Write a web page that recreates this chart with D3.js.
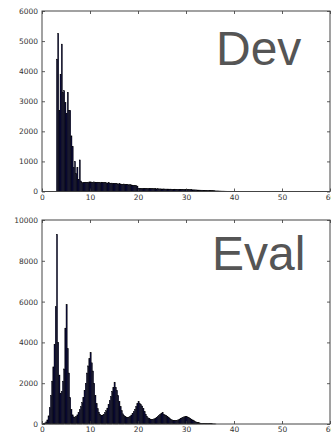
<!DOCTYPE html>
<html>
<head>
<meta charset="utf-8">
<script src="https://cdn.jsdelivr.net/npm/d3@7"></script>
<style>
  body { margin: 0; background: #fff; }
  svg { display: block; }
  .tick text { font-family: "DejaVu Sans", sans-serif; font-size: 7.5px; fill: #333; }
  .tick line { stroke: #333; stroke-width: 0.8px; }
  .domain { display: none; }
</style>
</head>
<body>
<div id="container"></div>
<script>
// histogram bins, width 0.25
const binWidth = 0.25;

const devStart = 3.0;
const devCounts = [
  4400, 5250, 2700, 3900, 4900, 3300, 3350, 2950, 2600, 3300, 2700, 2700,
  1850, 1500, 800, 1000, 600, 800, 400, 1050, 350,
  300, 290, 300, 310, 300, 310, 320,
  320, 310, 300, 320, 310, 300, 310, 300,
  300, 310, 300, 290, 300, 290, 280, 290,
  280, 270, 280, 270, 260, 270, 260, 250,
  260, 250, 240, 240, 250, 230, 240, 230,
  220, 230, 220, 210, 200, 210, 190, 180,
  110, 100, 105, 100, 95, 100, 100, 95,
  95, 100, 90, 95, 90, 95, 90, 88,
  90, 85, 88, 85, 84, 86, 82, 80,
  82, 80, 78, 80, 76, 75, 78, 74,
  72, 74, 70, 72, 68, 70, 66, 65,
  64, 62, 60, 62, 58, 56, 55, 54,
  52, 50, 48, 46, 45, 44, 42, 40,
  38, 36, 35, 33, 30, 28, 26, 24,
  22, 20, 19, 18, 16, 15, 14, 13,
  12, 11, 10, 10, 9, 8, 8, 7,
  6, 6, 5, 5, 4, 4, 3, 3,
  3, 2, 2, 2, 2, 1, 1, 1,
  1, 1, 0, 1, 1, 0, 1, 0
];

const evalStart = 0.25;
const evalCounts = [
  20, 50, 100, 200, 400, 800, 1400, 2100, 2800, 3900, 5750, 9300,
  4000, 2400, 1500, 1600, 2100, 2700, 4700, 5850, 3700, 2500, 1300, 700,
  450, 350, 330, 380, 450, 550, 700, 850, 1050, 1300, 1650, 2000,
  2500, 2850, 3200, 3500, 3000, 2600, 2000, 1400, 1000, 750, 580, 480,
  430, 440, 480, 560, 650, 780, 950, 1150, 1350, 1600, 1800, 2050,
  1800, 1650, 1400, 1100, 850, 650, 500, 420, 360, 330, 320, 340,
  380, 440, 520, 600, 720, 850, 1000, 1100, 1000, 950, 880, 750,
  600, 480, 380, 300, 260, 230, 220, 230, 250, 280, 320, 370,
  420, 470, 520, 560, 470, 450, 420, 380, 320, 270, 230, 200,
  180, 170, 170, 180, 200, 230, 270, 300, 330, 350, 360, 370,
  340, 310, 280, 240, 200, 160, 130, 100, 80, 60, 50, 40,
  35, 30, 25, 22, 20, 18, 15, 12, 10, 8, 5, 3
];

const xTicks = [0, 10, 20, 30, 40, 50, 60];
const devYTicks = [0, 1000, 2000, 3000, 4000, 5000, 6000];
const evalYTicks = [0, 2000, 4000, 6000, 8000, 10000];

const width = 331, height = 432;

const svg = d3.select("#container").append("svg")
  .attr("width", width)
  .attr("height", height);

function panel(opts) {
  const x = d3.scaleLinear().domain([0, 60]).range([42, 330]);
  const y = d3.scaleLinear().domain([0, opts.ymax]).range([opts.bottom, opts.top]);
  const g = svg.append("g");

  const bins = opts.counts.map((c, i) => ({ x0: opts.start + i * binWidth, c: c }));

  g.selectAll("rect.bar")
    .data(bins)
    .join("rect")
    .attr("class", "bar")
    .attr("x", d => x(d.x0))
    .attr("width", x(binWidth) - x(0))
    .attr("y", d => y(d.c))
    .attr("height", d => y(0) - y(d.c))
    .attr("fill", "#0a0a3c")
    .attr("stroke", "#000")
    .attr("stroke-width", 0.4);

  // inward ticks on all four sides
  g.append("g").attr("transform", `translate(0,${opts.bottom})`)
    .call(d3.axisBottom(x).tickValues(xTicks).tickSize(-3).tickPadding(3).tickFormat(d3.format("d")));
  g.append("g").attr("transform", `translate(0,${opts.top})`)
    .call(d3.axisTop(x).tickValues(xTicks).tickSize(-3).tickFormat(""));
  g.append("g").attr("transform", "translate(42,0)")
    .call(d3.axisLeft(y).tickValues(opts.yTicks).tickSize(-3).tickPadding(4).tickFormat(d3.format("d")));
  g.append("g").attr("transform", "translate(330,0)")
    .call(d3.axisRight(y).tickValues(opts.yTicks).tickSize(-3).tickFormat(""));

  g.append("rect")
    .attr("x", 42).attr("y", opts.top)
    .attr("width", 288).attr("height", opts.bottom - opts.top)
    .attr("fill", "none")
    .attr("stroke", "#444")
    .attr("stroke-width", 1);

  g.append("text")
    .attr("x", opts.labelX).attr("y", opts.labelY)
    .attr("font-family", "Liberation Sans, Arial, sans-serif")
    .attr("font-size", 48)
    .attr("fill", "#555")
    .text(opts.label);
}

panel({ counts: devCounts, start: devStart, ymax: 6000, yTicks: devYTicks,
        top: 11, bottom: 191.5, label: "Dev", labelX: 216, labelY: 65 });
panel({ counts: evalCounts, start: evalStart, ymax: 10000, yTicks: evalYTicks,
        top: 220, bottom: 424, label: "Eval", labelX: 212, labelY: 270 });
</script>
</body>
</html>
